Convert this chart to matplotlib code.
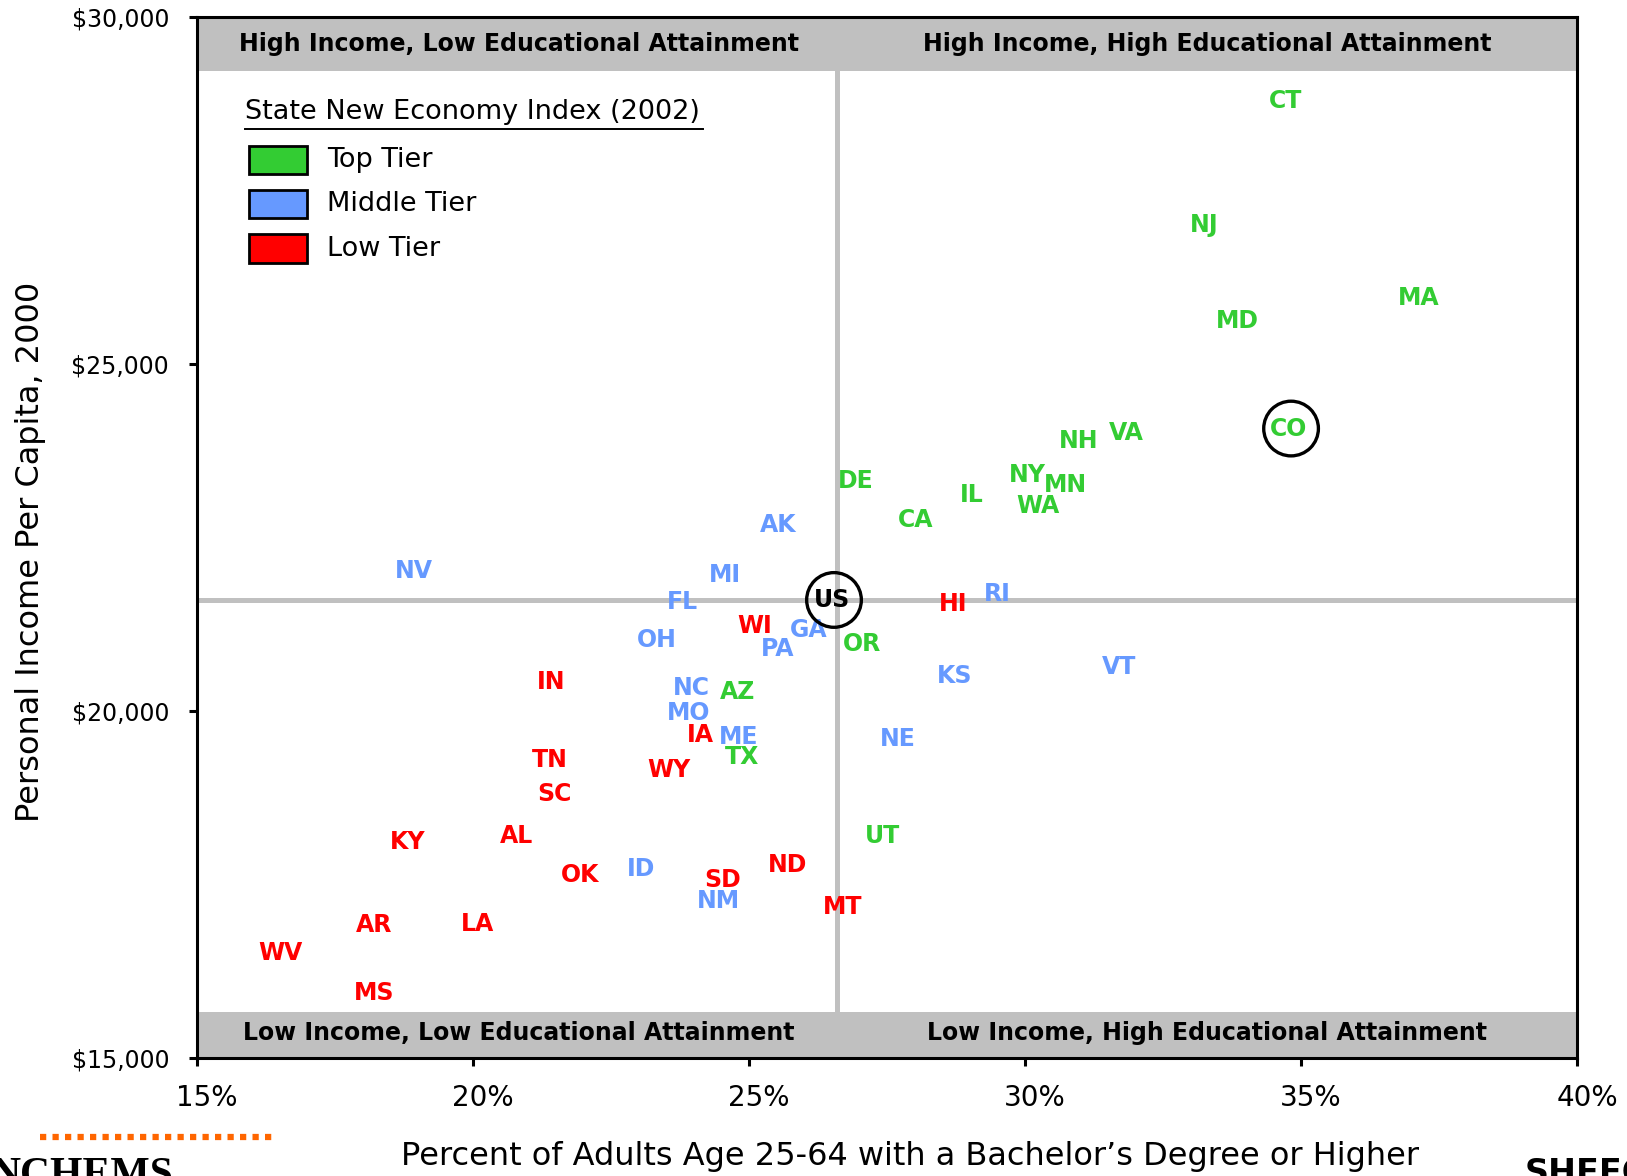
import matplotlib
matplotlib.use("Agg")
import matplotlib.pyplot as plt
import matplotlib.transforms as mtransforms
from matplotlib.patches import Rectangle
from matplotlib.lines import Line2D
from matplotlib.ticker import FuncFormatter

# ---------------- data ----------------
states = ["CT", "NJ", "MA", "MD", "CO", "VA", "NH", "NY", "MN", "WA", "IL", "DE", "CA",
          "AK", "NV", "MI", "FL", "HI", "RI", "WI", "GA", "OH", "PA", "OR", "IN", "NC",
          "AZ", "KS", "VT", "MO", "IA", "ME", "NE", "TX", "TN", "WY", "SC", "UT", "KY",
          "AL", "ND", "OK", "ID", "SD", "NM", "MT", "AR", "LA", "WV", "MS"]
pct_bachelor = [34.72, 33.25, 37.14, 33.85, 34.77, 31.84, 30.98, 30.04, 30.73, 30.24, 29.04, 26.94, 28.01,
                25.53, 18.93, 24.57, 23.80, 28.70, 29.49, 25.11, 26.09, 23.33, 25.51, 27.05, 21.41, 23.95,
                24.79, 28.72, 31.71, 23.91, 24.12, 24.81, 27.69, 24.87, 21.39, 23.55, 21.48, 27.41, 18.82,
                20.79, 25.70, 21.94, 23.05, 24.53, 24.44, 26.69, 18.21, 20.08, 16.52, 18.21]
income = [28790, 27010, 25950, 25620, 24070, 24000, 23890, 23400, 23260, 22960, 23110, 23310, 22750,
          22680, 22020, 21960, 21570, 21540, 21690, 21230, 21170, 21020, 20900, 20960, 20420, 20330,
          20270, 20510, 20630, 19970, 19660, 19620, 19600, 19330, 19300, 19150, 18800, 18200, 18110,
          18200, 17780, 17640, 17730, 17570, 17260, 17170, 16910, 16930, 16510, 15930]
tier = ["Top", "Top", "Top", "Top", "Top", "Top", "Top", "Top", "Top", "Top", "Top", "Top", "Top",
        "Middle", "Middle", "Middle", "Middle", "Low", "Middle", "Low", "Middle", "Middle", "Middle", "Top", "Low", "Middle",
        "Top", "Middle", "Middle", "Middle", "Low", "Middle", "Middle", "Top", "Low", "Low", "Low", "Top", "Low",
        "Low", "Low", "Low", "Middle", "Low", "Middle", "Low", "Low", "Low", "Low", "Low"]

us_label = "US"
us_pct = 26.5
us_income = 21600
us_avg_pct = 26.6
us_avg_income = 21600
circled = ["CO"]

tier_names = ["Top Tier", "Middle Tier", "Low Tier"]
tier_keys = ["Top", "Middle", "Low"]
tier_colors = {"Top": "#33CC33", "Middle": "#6699FF", "Low": "#FF0000"}

x_ticks = [15, 20, 25, 30, 35, 40]
y_ticks = [15000, 20000, 25000, 30000]

quadrant_labels = {
    "tl": "High Income, Low Educational Attainment",
    "tr": "High Income, High Educational Attainment",
    "bl": "Low Income, Low Educational Attainment",
    "br": "Low Income, High Educational Attainment",
}

# ---------------- figure ----------------
W, H = 1627, 1176
fig = plt.figure(figsize=(W / 100, H / 100), dpi=100)
ax = fig.add_axes([197 / W, 1 - 1058 / H, 1380 / W, 1041 / H])
ax.set_xlim(15, 40)
ax.set_ylim(15000, 30000)

band_top = 0.0515
band_bot = 0.044
gray = "#C0C0C0"
ax.add_patch(Rectangle((0, 1 - band_top), 1, band_top, transform=ax.transAxes,
                       facecolor=gray, edgecolor="none", zorder=0))
ax.add_patch(Rectangle((0, 0), 1, band_bot, transform=ax.transAxes,
                       facecolor=gray, edgecolor="none", zorder=0))

# quadrant lines
ax.axhline(us_avg_income, color=gray, lw=3.6, zorder=1)
ax.axvline(us_avg_pct, ymin=band_bot, ymax=1 - band_top, color=gray, lw=3.6, zorder=1)

# quadrant labels
qfs = 17
ax.text(0.233, 1 - band_top / 2, quadrant_labels["tl"], transform=ax.transAxes,
        ha="center", va="center", fontsize=qfs, fontweight="bold", color="black")
ax.text(0.732, 1 - band_top / 2, quadrant_labels["tr"], transform=ax.transAxes,
        ha="center", va="center", fontsize=qfs, fontweight="bold", color="black")
ax.text(0.233, band_bot / 2 + 0.002, quadrant_labels["bl"], transform=ax.transAxes,
        ha="center", va="center", fontsize=qfs, fontweight="bold", color="black")
ax.text(0.732, band_bot / 2 + 0.002, quadrant_labels["br"], transform=ax.transAxes,
        ha="center", va="center", fontsize=qfs, fontweight="bold", color="black")

# state labels
for s, xv, yv, t in zip(states, pct_bachelor, income, tier):
    ax.text(xv, yv, s, ha="center", va="center", fontsize=17, fontweight="bold",
            color=tier_colors[t], zorder=3)
    if s in circled:
        ax.scatter([xv + 0.05], [yv], s=1550, facecolors="none", edgecolors="black",
                   linewidths=2.4, zorder=4)

ax.text(us_pct, us_income, us_label, ha="center", va="center", fontsize=17,
        fontweight="bold", color="black", zorder=3)
ax.scatter([us_pct + 0.04], [us_income], s=1550, facecolors="none", edgecolors="black",
           linewidths=2.4, zorder=4)

# legend (manual)
ax.text(0.0348, 0.9087, "State New Economy Index (2002)", transform=ax.transAxes,
        ha="left", va="center", fontsize=19.5)
ax.add_line(Line2D([0.0348, 0.0348 + 0.332], [0.892, 0.892], transform=ax.transAxes,
                   color="black", lw=1.4))
leg_y = [0.8626, 0.8204, 0.7776]
for name, key, yy in zip(tier_names, tier_keys, leg_y):
    ax.add_patch(Rectangle((0.0377, yy - 0.0135), 0.042, 0.027, transform=ax.transAxes,
                           facecolor=tier_colors[key], edgecolor="black", lw=2.0, zorder=5))
    ax.text(0.0942, yy, name, transform=ax.transAxes, ha="left", va="center", fontsize=19.5)

# axes styling
for sp in ax.spines.values():
    sp.set_linewidth(2.2)
    sp.set_color("black")
ax.set_xticks(x_ticks)
ax.set_yticks(y_ticks)
ax.xaxis.set_major_formatter(FuncFormatter(lambda v, p: f"{v:.0f}%"))
ax.yaxis.set_major_formatter(FuncFormatter(lambda v, p: f"${v:,.0f}"))
ax.tick_params(axis="both", direction="out", length=6, width=2.2, color="black")
ax.tick_params(axis="x", labelsize=20, pad=13)
ax.tick_params(axis="y", labelsize=17, pad=14)
shift = mtransforms.ScaledTranslation(0.10, 0, fig.dpi_scale_trans)
for lbl in ax.get_xticklabels():
    lbl.set_transform(lbl.get_transform() + shift)

ax.set_ylabel("Personal Income Per Capita, 2000", fontsize=23)
ax.yaxis.set_label_coords(-0.1095, 0.486)
fig.text(910 / W, 1 - 1157 / H, "Percent of Adults Age 25-64 with a Bachelor\u2019s Degree or Higher",
         ha="center", va="center", fontsize=23)

# footer decorations
fig.add_artist(Line2D([40 / W, 273 / W], [1 - 1137 / H, 1 - 1137 / H], color="#FF6600",
                      lw=4.5, linestyle=(0, (1.0, 1.0)), solid_capstyle="butt"))
fig.text(-0.006, 1 - 1157 / H, "NCHEMS", ha="left", va="top", fontsize=30,
         fontweight="bold", family="Liberation Serif", color="black")
fig.text(1525 / W, 1 - 1157 / H, "SHEEO", ha="left", va="top", fontsize=24,
         fontweight="bold", color="black")

fig.savefig("out.png", dpi=100)
